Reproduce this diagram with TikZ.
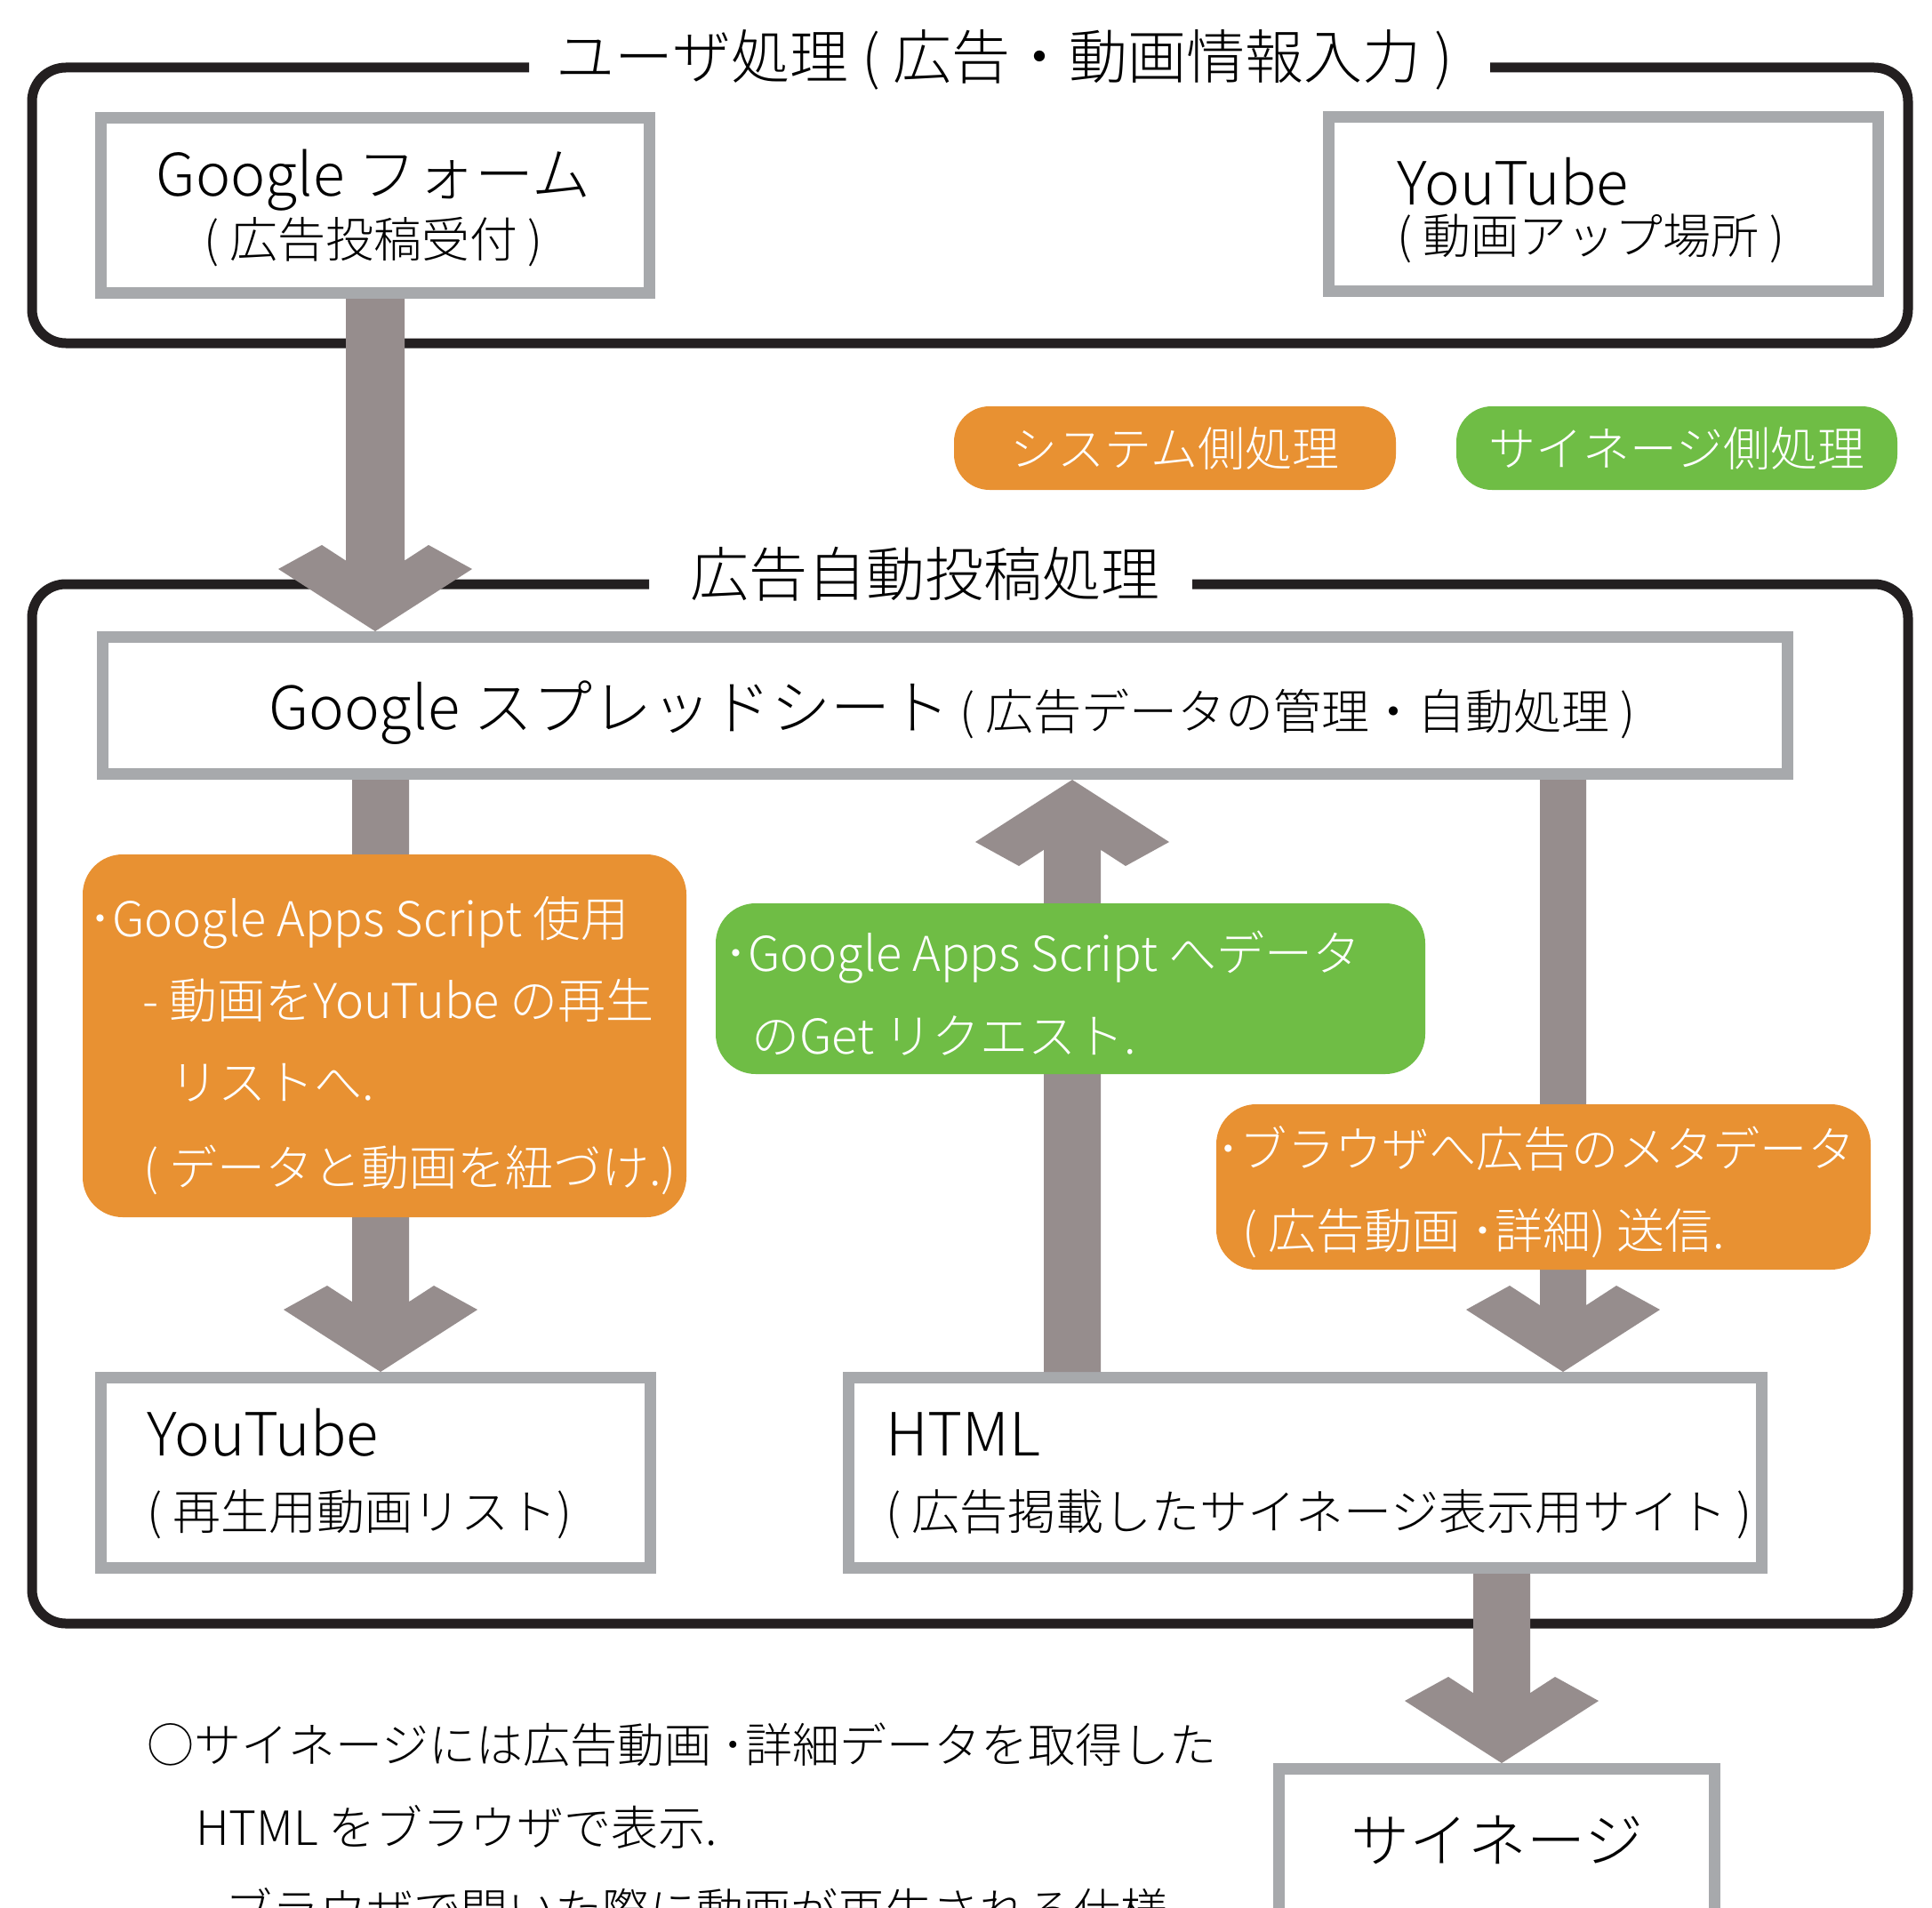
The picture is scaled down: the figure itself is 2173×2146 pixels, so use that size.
\documentclass[tikz,border=0pt]{standalone}
\usepackage{fontspec}
\usepackage{graphicx}
\setmainfont{Noto Sans CJK JP Light}
\usetikzlibrary{calc}
\definecolor{framebk}{RGB}{35,31,32}
\definecolor{boxgray}{RGB}{167,169,172}
\definecolor{arrowgray}{RGB}{150,141,141}
\definecolor{sysorange}{RGB}{232,145,50}
\definecolor{siggreen}{RGB}{111,189,69}
\newcommand\fs[1]{\fontsize{#1}{#1}\selectfont}
% #1 start coordinate (only y used), #2 tip coordinate, #3 shaft half width
\newcommand\fatarrow[3]{%
  \fill[arrowgray] let \p1=#1, \p2=#2, \n1={ifthenelse(\y1>\y2,1,-1)}, \n2={97-(60-#3)*0.65} in
    (\x2-#3pt,\y1) -- (\x2-#3pt,\y2+\n1*\n2) -- (\x2-60pt,\y2+\n1*97pt) -- (\x2-109pt,\y2+\n1*70pt)
    -- (\x2,\y2) -- (\x2+109pt,\y2+\n1*70pt) -- (\x2+60pt,\y2+\n1*97pt) -- (\x2+#3pt,\y2+\n1*\n2)
    -- (\x2+#3pt,\y1) -- cycle;}
\begin{document}
\begin{tikzpicture}[x=1pt,y=-1pt,
  frame/.style={draw=framebk,line width=11pt,rounded corners=38pt},
  graybox/.style={draw=boxgray,line width=13pt,fill=white,inner sep=0pt,rectangle},
  colbox/.style={rectangle,rounded corners=45pt,inner sep=0pt,draw=none},
  lbl/.style={inner sep=0pt,anchor=base west},
  ctr/.style={inner sep=0pt,anchor=base},
  wlbl/.style={lbl,text=white}]
\useasboundingbox[fill=white] (0,0) rectangle (2173,2146);
% frames
\draw[frame] (595,76) -- (36,76) -- (36,386) -- (2146,386) -- (2146,76) -- (1676,76);
\draw[frame] (730,657) -- (36,657) -- (36,1826) -- (2146,1826) -- (2146,657) -- (1341,657);
% gray boxes
\node[graybox,minimum width=617pt,minimum height=197pt] (form) at (422,231) {};
\node[graybox,minimum width=618pt,minimum height=196pt] (yt1) at (1803.5,229.5) {};
\node[graybox,minimum width=1895pt,minimum height=154pt] (sheet) at (1063,793.5) {};
\node[graybox,minimum width=618pt,minimum height=214pt] (yt2) at (422.5,1656.5) {};
\node[graybox,minimum width=1027pt,minimum height=214pt] (html) at (1468,1656.5) {};
\node[graybox,minimum width=490pt,minimum height=264pt] (sign) at (1683.5,2121.5) {};
% arrows
\fatarrow{(form.south)}{(form.south |- sheet.north)}{33}
\fatarrow{(428,0 |- sheet.south)}{(428,0 |- yt2.north)}{32}
\fatarrow{(1206,0 |- html.north)}{(1206,0 |- sheet.south)}{32}
\fatarrow{(1758,0 |- sheet.south)}{(1758,0 |- html.north)}{26}
\fatarrow{(1689,0 |- html.south)}{(1689,0 |- sign.north)}{32}
% legend
\node[colbox,fill=sysorange,rounded corners=40pt,minimum width=497pt,minimum height=94pt,text=white] (leg1) at (1321.5,504) {\fs{53}システム側処理};
\node[colbox,fill=siggreen,rounded corners=40pt,minimum width=496pt,minimum height=94pt,text=white] (leg2) at (1886,504) {\fs{53}サイネージ側処理};
% coloured process boxes
\node[colbox,fill=sysorange,minimum width=679pt,minimum height=408pt] (or1) at (432.5,1165) {};
\node[colbox,fill=siggreen,minimum width=798pt,minimum height=192pt] (gr1) at (1204,1112) {};
\node[colbox,fill=sysorange,minimum width=736pt,minimum height=186pt] (or2) at (1736,1335) {};
% titles
\node[ctr] (t1) at (1130,89) {\fs{66}ユーザ処理 ( 広告・動画情報入力 )};
\node[ctr] (t2) at (1040,670) {\fs{66}広告自動投稿処理};
% box texts
\node[ctr] (formA) at (420,221) {\fs{66}Google フォーム};
\node[ctr] (formB) at (420,289) {\fs{54}( 広告投稿受付 )};
\node[lbl] (yt1A) at (1571,230) {\fs{67}YouTube};
\node[lbl] (yt1B) at (1571,285) {\fs{54}( 動画アップ場所 )};
\node[lbl] (sheetA) at (302,820) {\fs{67}Google スプレッドシート\fs{54} ( 広告データの管理・自動処理 )};
\node[lbl] (yt2A) at (165,1637) {\fs{67}YouTube};
\node[lbl] (yt2B) at (165,1720) {\fs{54}( 再生用動画リスト)};
\node[lbl] (htA) at (996,1637) {\fs{67}HTML};
\node[lbl] (htB) at (996,1720) {\fs{54}( 広告掲載したサイネージ表示用サイト )};
\node[ctr] (signA) at (1684,2094) {\fs{66}サイネージ};
% coloured box texts
\node[wlbl] (o1a) at (99,1053) {\fs{54}･Google Apps Script 使用};
\node[wlbl] (o1b) at (160,1145) {\fs{54}- 動画をYouTube の再生};
\node[wlbl] (o1c) at (191,1237) {\fs{54}リストへ.};
\node[wlbl] (o1d) at (161,1333) {\fs{54}( データと動画を紐づけ.)};
\node[wlbl] (g1a) at (814,1092) {\fs{54}･Google Apps Script へデータ};
\node[wlbl] (g1b) at (845,1185) {\fs{54}のGet リクエスト.};
\node[wlbl] (o2a) at (1368,1312) {\fs{54}\scalebox{0.985}[1]{･ブラウザへ広告のメタデータ}};
\node[wlbl] (o2b) at (1397,1404) {\fs{54}( 広告動画 ･詳細) 送信.};
% notes
\node[lbl] (n1) at (165,1982) {\fs{53}○サイネージには広告動画 ･詳細データを取得した};
\node[lbl] (n2) at (220,2075) {\fs{53}HTML をブラウザで表示.};
\node[lbl] (n3) at (253,2168) {\fs{53}ブラウザで開いた際に動画が再生される仕様};
\end{tikzpicture}
\end{document}
